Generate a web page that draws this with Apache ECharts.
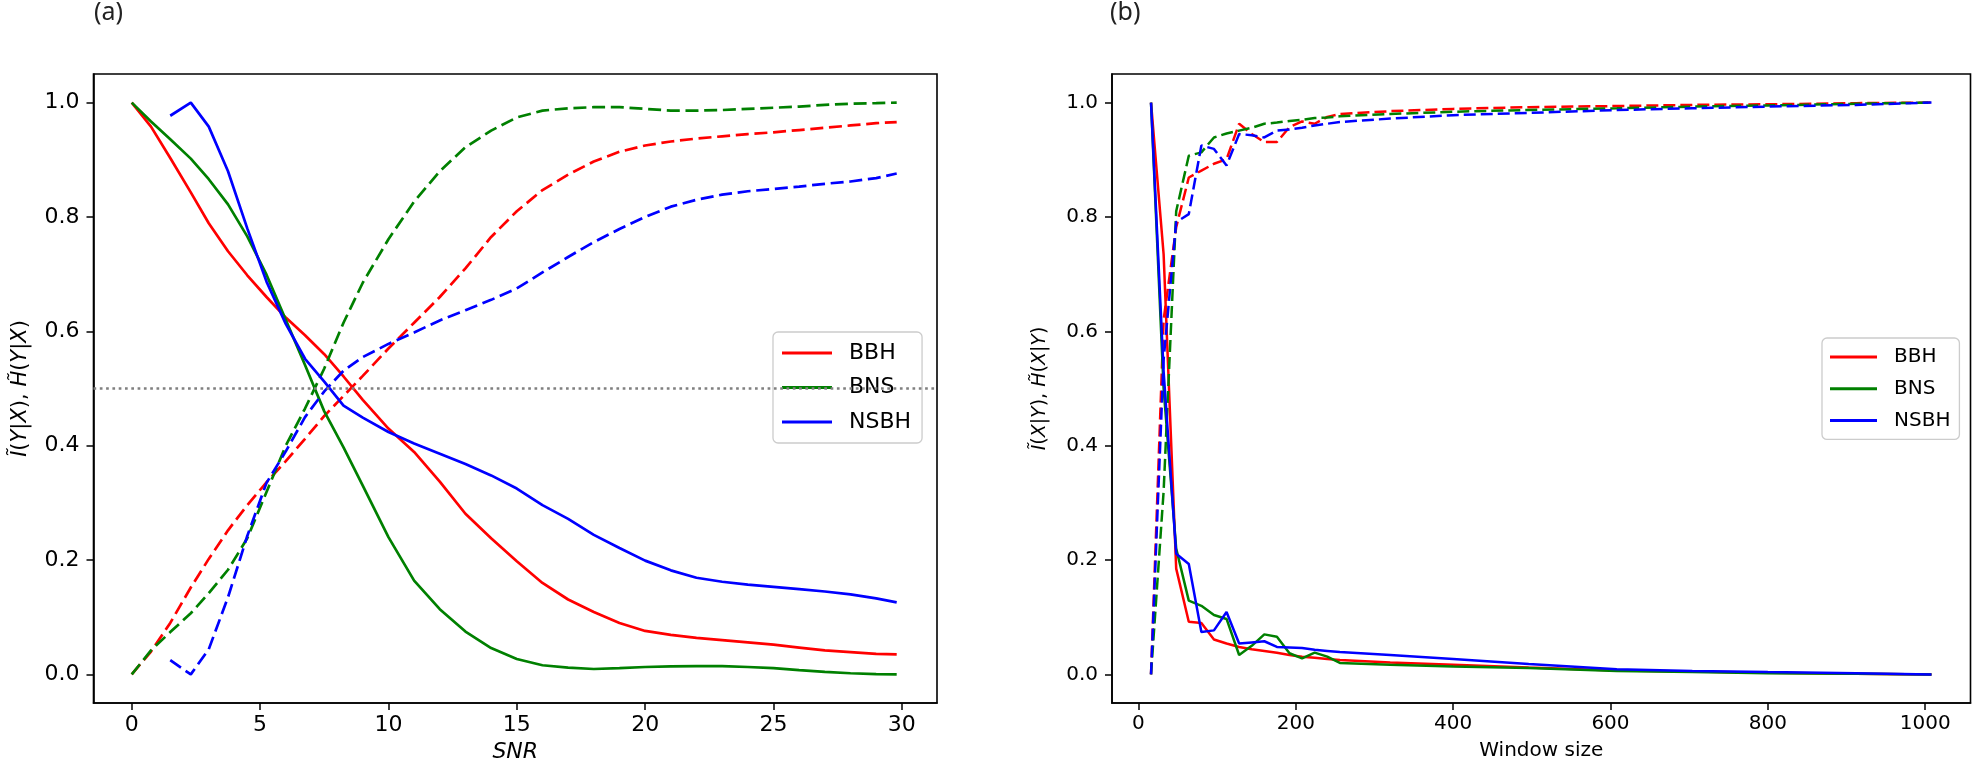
<!DOCTYPE html>
<html>
<head>
<meta charset="utf-8">
<script src="https://cdn.jsdelivr.net/npm/echarts@6/dist/echarts.min.js"></script>
<style>
html,body{margin:0;padding:0;background:#fff;}
#main{width:1973px;height:770px;}
</style>
</head>
<body>
<div id="main"></div>
<script>
// ---------- Panel (a): SNR ----------
const SNR = [0, 0.75, 1.5, 2.3, 3, 3.75, 4.5, 5.25, 6, 6.75, 7.5, 8.25, 9, 10, 11, 12, 13, 14, 15, 16, 17, 18, 19, 20, 21, 22, 23, 24, 25, 26, 27, 28, 29, 29.8];
const BBH_I_SNR = [1.0, 0.958, 0.903, 0.843, 0.789, 0.74, 0.698, 0.66, 0.624, 0.593, 0.56, 0.521, 0.48, 0.43, 0.389, 0.337, 0.281, 0.238, 0.198, 0.16, 0.131, 0.109, 0.09, 0.076, 0.069, 0.064, 0.06, 0.056, 0.052, 0.047, 0.042, 0.039, 0.036, 0.035];
const BNS_I_SNR = [1.0, 0.967, 0.936, 0.902, 0.866, 0.822, 0.766, 0.699, 0.62, 0.541, 0.46, 0.397, 0.33, 0.24, 0.164, 0.114, 0.075, 0.046, 0.027, 0.016, 0.012, 0.0095, 0.011, 0.013, 0.0142, 0.0146, 0.0146, 0.013, 0.011, 0.0075, 0.0045, 0.002, 0.0005, 0.0];
const NSBH_I_SNR = [null, null, 0.977, 1.0, 0.958, 0.88, 0.78, 0.687, 0.613, 0.552, 0.512, 0.47, 0.449, 0.424, 0.404, 0.386, 0.368, 0.348, 0.325, 0.296, 0.272, 0.244, 0.221, 0.199, 0.182, 0.169, 0.162, 0.157, 0.153, 0.149, 0.145, 0.14, 0.133, 0.126];
const BBH_H_SNR = [0.0, 0.04, 0.09, 0.152, 0.202, 0.252, 0.296, 0.336, 0.373, 0.412, 0.452, 0.487, 0.522, 0.57, 0.615, 0.66, 0.71, 0.765, 0.81, 0.847, 0.874, 0.897, 0.914, 0.925, 0.932, 0.937, 0.941, 0.945, 0.948, 0.952, 0.956, 0.96, 0.964, 0.966];
const BNS_H_SNR = [0.0, 0.042, 0.074, 0.107, 0.142, 0.183, 0.238, 0.319, 0.4, 0.465, 0.535, 0.615, 0.685, 0.761, 0.827, 0.88, 0.922, 0.951, 0.974, 0.986, 0.99, 0.992, 0.992, 0.989, 0.986, 0.986, 0.987, 0.989, 0.991, 0.993, 0.996, 0.998, 0.999, 1.0];
const NSBH_H_SNR = [null, null, 0.025, 0.0, 0.044, 0.135, 0.242, 0.335, 0.39, 0.45, 0.495, 0.531, 0.555, 0.578, 0.598, 0.619, 0.637, 0.655, 0.675, 0.703, 0.73, 0.756, 0.779, 0.8, 0.818, 0.83, 0.839, 0.845, 0.849, 0.853, 0.858, 0.862, 0.868, 0.876];
const REF_LEVEL = 0.5;

// ---------- Panel (b): Window size ----------
const WIN = [16, 32, 48, 64, 80, 96, 112, 128, 144, 160, 176, 192, 208, 224, 240, 256, 320, 400, 496, 608, 704, 800, 912, 1008];
const BBH_I_WIN = [1.0, 0.735, 0.185, 0.092, 0.09, 0.061, 0.054, 0.048, 0.044, 0.041, 0.038, 0.034, 0.031, 0.029, 0.027, 0.025, 0.021, 0.017, 0.012, 0.007, 0.005, 0.003, 0.001, 0.0];
const BNS_I_WIN = [1.0, 0.5, 0.22, 0.129, 0.12, 0.104, 0.097, 0.034, 0.05, 0.07, 0.066, 0.037, 0.028, 0.038, 0.031, 0.02, 0.017, 0.014, 0.011, 0.006, 0.004, 0.002, 0.001, 0.0];
const NSBH_I_WIN = [1.0, 0.53, 0.211, 0.193, 0.074, 0.077, 0.109, 0.054, 0.056, 0.058, 0.048, 0.047, 0.046, 0.043, 0.041, 0.039, 0.034, 0.027, 0.018, 0.009, 0.006, 0.004, 0.002, 0.0];
const BBH_H_WIN = [0.0, 0.62, 0.782, 0.869, 0.881, 0.893, 0.901, 0.963, 0.945, 0.931, 0.931, 0.957, 0.967, 0.963, 0.975, 0.98, 0.985, 0.989, 0.992, 0.994, 0.996, 0.997, 0.999, 1.0];
const BNS_H_WIN = [0.0, 0.32, 0.81, 0.907, 0.913, 0.939, 0.946, 0.951, 0.956, 0.963, 0.965, 0.968, 0.97, 0.973, 0.974, 0.976, 0.98, 0.984, 0.987, 0.99, 0.993, 0.995, 0.998, 1.0];
const NSBH_H_WIN = [0.0, 0.55, 0.791, 0.805, 0.925, 0.919, 0.89, 0.945, 0.943, 0.939, 0.951, 0.953, 0.956, 0.96, 0.963, 0.966, 0.972, 0.978, 0.982, 0.987, 0.99, 0.993, 0.996, 1.0];

const SNR_TICKS = [0, 5, 10, 15, 20, 25, 30];
const WIN_TICKS = [0, 200, 400, 600, 800, 1000];
const Y_TICKS = [0, 0.2, 0.4, 0.6, 0.8, 1.0];
const NAMES = ['BBH', 'BNS', 'NSBH'];
const COLORS = ['#ff0000', '#008000', '#0000ff'];

function pairs(xs, ys) {
  const out = [];
  for (let i = 0; i < xs.length; i++) if (ys[i] !== null) out.push([xs[i], ys[i]]);
  return out;
}

const FONT = 'DejaVu Sans';
const chart = echarts.init(document.getElementById('main'), null, {renderer: 'canvas'});

function xAxisCfg(gridIndex, min, max, ticks, name, italic, fs) {
  return {
    type: 'value', gridIndex, min, max,
    axisLine: {show: true, onZero: false, lineStyle: {color: '#000', width: 1.6}},
    axisTick: {show: true, customValues: ticks, length: 7, lineStyle: {color: '#000', width: 1.5}},
    axisLabel: {customValues: ticks, fontSize: fs, fontFamily: FONT, color: '#000', margin: 11,
      formatter: v => String(v)},
    splitLine: {show: false},
    name, nameLocation: 'middle', nameGap: 38,
    nameTextStyle: {fontSize: fs, fontFamily: FONT, color: '#000', fontStyle: italic ? 'italic' : 'normal'}
  };
}
function yAxisCfg(gridIndex, name, fs) {
  return {
    type: 'value', gridIndex, min: -0.05, max: 1.05,
    axisLine: {show: true, onZero: false, lineStyle: {color: '#000', width: 1.6}},
    axisTick: {show: true, customValues: Y_TICKS, length: 7, lineStyle: {color: '#000', width: 1.5}},
    axisLabel: {customValues: Y_TICKS, fontSize: fs, fontFamily: FONT, color: '#000', margin: 14,
      formatter: v => v.toFixed(1)},
    splitLine: {show: false},
    name, nameLocation: 'middle', nameGap: 62,
    nameTextStyle: {fontSize: fs - 1, fontFamily: FONT, color: '#000',
      rich: {i: {fontStyle: 'italic', fontSize: fs - 1, fontFamily: FONT, color: '#000'}}}
  };
}

const series = [];
const solidA = [BBH_I_SNR, BNS_I_SNR, NSBH_I_SNR];
const dashA = [BBH_H_SNR, BNS_H_SNR, NSBH_H_SNR];
const solidB = [BBH_I_WIN, BNS_I_WIN, NSBH_I_WIN];
const dashB = [BBH_H_WIN, BNS_H_WIN, NSBH_H_WIN];
for (let k = 0; k < 3; k++) {
  series.push({name: NAMES[k], type: 'line', xAxisIndex: 0, yAxisIndex: 0, data: pairs(SNR, solidA[k]),
    showSymbol: false, symbol: 'none', color: COLORS[k], lineStyle: {color: COLORS[k], width: 2.7}, z: 3});
  series.push({name: NAMES[k] + ' H', type: 'line', xAxisIndex: 0, yAxisIndex: 0, data: pairs(SNR, dashA[k]),
    showSymbol: false, symbol: 'none', color: COLORS[k], lineStyle: {color: COLORS[k], width: 2.7, type: [13, 5.7]}, z: 3});
  series.push({name: NAMES[k], type: 'line', xAxisIndex: 1, yAxisIndex: 1, data: pairs(WIN, solidB[k]),
    showSymbol: false, symbol: 'none', color: COLORS[k], lineStyle: {color: COLORS[k], width: 2.5}, z: 3});
  series.push({name: NAMES[k] + ' H', type: 'line', xAxisIndex: 1, yAxisIndex: 1, data: pairs(WIN, dashB[k]),
    showSymbol: false, symbol: 'none', color: COLORS[k], lineStyle: {color: COLORS[k], width: 2.5, type: [12, 5]}, z: 3});
}
series.push({name: 'ref', type: 'line', xAxisIndex: 0, yAxisIndex: 0, data: [], z: 2,
  markLine: {silent: true, symbol: 'none', label: {show: false}, animation: false,
    lineStyle: {color: '#808080', width: 2.6, type: [2.7, 3.6]}, data: [{yAxis: REF_LEVEL}]}});

function legendCfg(left, top, fs, iw, lh, gap, pad) {
  return {
    show: true, orient: 'vertical', left, top, data: NAMES,
    icon: 'rect', itemWidth: iw, itemHeight: 3, itemGap: gap,
    padding: pad, borderColor: '#cccccc', borderWidth: 1.3, borderRadius: 5,
    backgroundColor: 'rgba(255,255,255,0.8)',
    textStyle: {fontSize: fs, fontFamily: FONT, color: '#000', lineHeight: lh, padding: [0, 0, 0, 12]}
  };
}

const option = {
  animation: false,
  backgroundColor: '#fff',
  grid: [
    {left: 93.5, top: 74, width: 843.5, height: 629, show: true, borderColor: '#000', borderWidth: 1.6, backgroundColor: 'transparent'},
    {left: 1112, top: 74, width: 858.5, height: 629, show: true, borderColor: '#000', borderWidth: 1.6, backgroundColor: 'transparent'}
  ],
  xAxis: [
    xAxisCfg(0, -1.49, 31.37, SNR_TICKS, 'SNR', true, 22),
    xAxisCfg(1, -33.6, 1057.6, WIN_TICKS, 'Window size', false, 20)
  ],
  yAxis: [
    yAxisCfg(0, '{i|Ĩ}({i|Y}|{i|X}), {i|H̃}({i|Y}|{i|X})', 22),
    yAxisCfg(1, '{i|Ĩ}({i|X}|{i|Y}), {i|H̃}({i|X}|{i|Y})', 20)
  ],
  legend: [
    legendCfg(773, 332, 22, 50, 24, 10.5, [9, 11, 9, 9]),
    legendCfg(1822, 338, 20, 47, 22, 9.7, [8, 9, 8, 8])
  ],
  graphic: [
    {type: 'text', left: 94, top: 0, style: {text: '(a)', font: '25px "Noto Sans"', fill: '#222'}},
    {type: 'text', left: 1110, top: 0, style: {text: '(b)', font: '25px "Noto Sans"', fill: '#222'}}
  ],
  series
};
chart.setOption(option);
</script>
</body>
</html>
